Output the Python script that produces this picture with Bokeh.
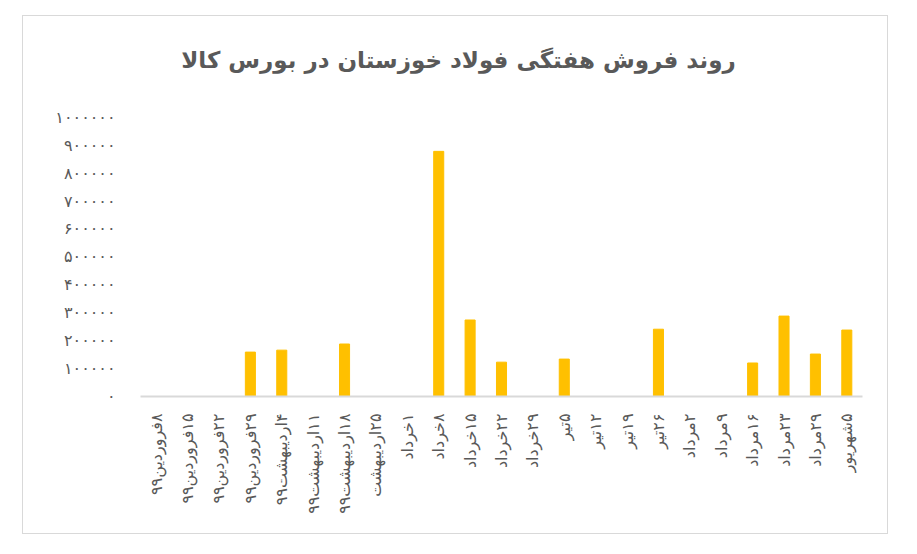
import math
from bokeh.plotting import figure
from bokeh.models import ColumnDataSource, FixedTicker, Range1d, Label
from bokeh.embed import file_html
from bokeh.resources import INLINE

title_text = "روند فروش هفتگی فولاد خوزستان در بورس کالا"

categories = [
    "۸فروردین۹۹", "۱۵فروردین۹۹", "۲۲فروردین۹۹", "۲۹فروردین۹۹",
    "۴اردیبهشت۹۹", "۱۱اردیبهشت۹۹", "۱۸اردیبهشت۹۹", "۲۵اردیبهشت",
    "۱خرداد", "۸خرداد", "۱۵خرداد", "۲۲خرداد", "۲۹خرداد",
    "۵تیر", "۱۲تیر", "۱۹تیر", "۲۶تیر",
    "۲مرداد", "۹مرداد", "۱۶مرداد", "۲۳مرداد", "۲۹مرداد", "۵شهریور",
]
sales = [
    0, 0, 0, 159000,
    166000, 0, 188000, 0,
    0, 878000, 274000, 123000, 0,
    134000, 0, 0, 241000,
    0, 0, 120000, 288000, 152000, 238000,
]
y_ticks = [0, 100000, 200000, 300000, 400000, 500000, 600000, 700000, 800000, 900000, 1000000]
y_tick_labels = ["۰", "۱۰۰۰۰۰", "۲۰۰۰۰۰", "۳۰۰۰۰۰", "۴۰۰۰۰۰", "۵۰۰۰۰۰",
                 "۶۰۰۰۰۰", "۷۰۰۰۰۰", "۸۰۰۰۰۰", "۹۰۰۰۰۰", "۱۰۰۰۰۰۰"]

# right-to-left mark so that the labels are ordered as in the original
RLM = "\u200f"
factors = [RLM + c for c in categories]
src = ColumnDataSource(dict(cat=factors, val=sales))

FONT = "DejaVu Sans"
GREY = "#595959"

# the top of the plot area leaves room for the chart title
Y_TOP = 1250000
TITLE_X = 10.13
TITLE_Y = 1204000

p = figure(
    x_range=factors, y_range=Range1d(0, Y_TOP),
    width=866, height=519, output_backend="svg", toolbar_location=None,
    min_border_left=117, min_border_right=27, min_border_top=31, min_border_bottom=139,
    margin=(15, 0, 0, 22),
)
p.styles = {"border": "1px solid #d9d9d9", "box-sizing": "border-box"}
p.outline_line_color = None
p.background_fill_color = "white"
p.border_fill_color = "white"

p.vbar(x="cat", top="val", width=0.32, color="#FFC000", source=src)

p.add_layout(Label(text=title_text, x=TITLE_X, y=TITLE_Y,
                   text_align="center", text_baseline="middle",
                   text_font=FONT, text_font_size="23px", text_font_style="bold",
                   text_color=GREY))

p.xgrid.grid_line_color = None
p.ygrid.grid_line_color = None

p.xaxis.axis_line_color = "#d9d9d9"
p.xaxis.axis_line_width = 2
p.xaxis.major_tick_line_color = None
p.xaxis.minor_tick_line_color = None
p.xaxis.major_label_orientation = math.pi / 2
p.xaxis.major_label_text_font = FONT
p.xaxis.major_label_text_font_size = "16px"
p.xaxis.major_label_text_color = GREY
p.xaxis.major_label_standoff = 11

p.yaxis.ticker = FixedTicker(ticks=y_ticks)
p.yaxis.major_label_overrides = {t: l for t, l in zip(y_ticks, y_tick_labels)}
p.yaxis.axis_line_color = None
p.yaxis.major_tick_line_color = None
p.yaxis.minor_tick_line_color = None
p.yaxis.major_label_text_font = FONT
p.yaxis.major_label_text_font_size = "16px"
p.yaxis.major_label_text_color = GREY
p.yaxis.major_label_standoff = 19

open("out.html", "w").write(file_html(p, INLINE))
